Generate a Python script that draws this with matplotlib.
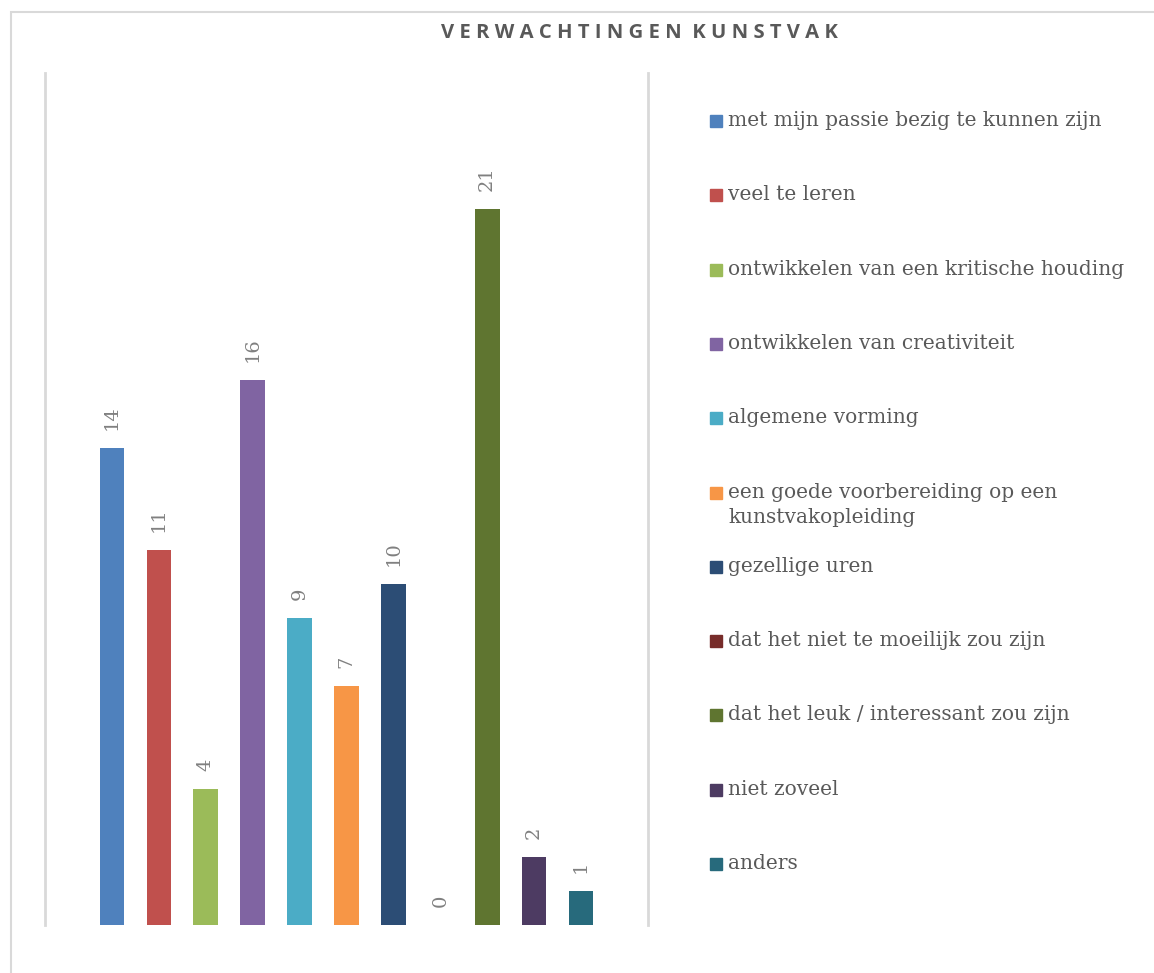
import textwrap
import matplotlib
matplotlib.use("Agg")
import matplotlib.pyplot as plt
from matplotlib.patches import Rectangle

categories = [
    "met mijn passie bezig te kunnen zijn",
    "veel te leren",
    "ontwikkelen van een kritische houding",
    "ontwikkelen van creativiteit",
    "algemene vorming",
    "een goede voorbereiding op een kunstvakopleiding",
    "gezellige uren",
    "dat het niet te moeilijk zou zijn",
    "dat het leuk / interessant zou zijn",
    "niet zoveel",
    "anders",
]
values = [14, 11, 4, 16, 9, 7, 10, 0, 21, 2, 1]
colors = ["#4F81BD", "#C0504D", "#9BBB59", "#8064A2", "#4BACC6", "#F79646",
          "#2C4D75", "#772C2A", "#5F7530", "#4D3B62", "#276A7C"]
title = "VERWACHTINGEN KUNSTVAK"

W, H = 1154, 973
fig = plt.figure(figsize=(W / 100, H / 100), dpi=100)

# outer chart frame
fig.patches.append(Rectangle((11 / W, -0.01), 1.02, 1 - 12 / H + 0.01,
                             transform=fig.transFigure, fill=False,
                             edgecolor="#D9D9D9", linewidth=1.5))

ax = fig.add_axes([45 / W, 48 / H, (648 - 45) / W, (925 - 73) / H])
x = list(range(len(values)))
ax.bar(x, values, width=0.53, color=colors)
ax.set_xlim(-1.43, 11.43)
ax.set_ylim(0, 25)
ax.set_xticks([])
ax.set_yticks([])
for s in ["top", "bottom"]:
    ax.spines[s].set_visible(False)
for s in ["left", "right"]:
    ax.spines[s].set_color("#D9D9D9")
    ax.spines[s].set_linewidth(2)

for xi, v in zip(x, values):
    ax.annotate(str(v), (xi, v), xytext=(0, 13), textcoords="offset points",
                rotation=90, ha="center", va="bottom", color="#808080",
                fontsize=14, family="DejaVu Serif")

spaced_title = "  ".join(" ".join(word) for word in title.split())
fig.text(639 / W, 1 - 33.5 / H, spaced_title,
         ha="center", va="center", fontsize=14.6, fontweight="bold",
         color="#595959", family="Open Sans")

# legend
y0 = 121
step = 74.3
for i, (lab, c) in enumerate(zip(categories, colors)):
    yc = y0 + i * step
    fig.patches.append(Rectangle((710 / W, 1 - (yc + 6) / H), 12 / W, 12 / H,
                                 transform=fig.transFigure, color=c))
    fig.text(728 / W, 1 - (yc - 10) / H, textwrap.fill(lab, 40),
             ha="left", va="top", fontsize=14.5, color="#595959",
             family="DejaVu Serif", linespacing=1.45)

fig.savefig("out.png", dpi=100)
